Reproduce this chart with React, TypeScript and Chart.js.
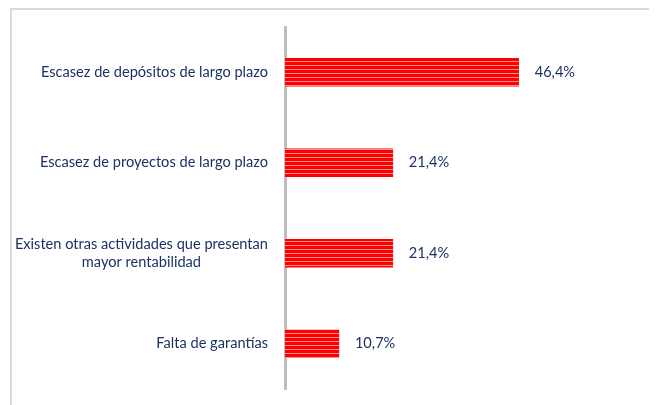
import React, { useEffect, useRef } from "react";
import { Chart, registerables } from "chart.js";

Chart.register(...registerables);

const categories: string[][] = [
  ["Escasez de depósitos de largo plazo"],
  ["Escasez de proyectos de largo plazo"],
  ["Existen otras actividades que presentan", "mayor rentabilidad"],
  ["Falta de garantías"],
];
const values: number[] = [46.4, 21.4, 21.4, 10.7];
const valueLabels: string[] = ["46,4%", "21,4%", "21,4%", "10,7%"];

const TEXT = "#1b3263";
const FONT = "14.6px Lato";

function makePattern(): CanvasPattern | string {
  const c = document.createElement("canvas");
  c.width = 4;
  c.height = 4;
  const g = c.getContext("2d");
  if (!g) return "#ff0000";
  g.fillStyle = "#ff0000";
  g.fillRect(0, 0, 4, 4);
  g.fillStyle = "#ff8c8c";
  g.fillRect(0, 3, 4, 1);
  const p = g.createPattern(c, "repeat");
  return p || "#ff0000";
}

const labelPlugin = {
  id: "customLabels",
  afterDraw(chart: any) {
    const ctx = chart.ctx as CanvasRenderingContext2D;
    const yScale = chart.scales.y;
    ctx.save();
    ctx.font = FONT;
    ctx.fillStyle = TEXT;
    ctx.textBaseline = "middle";
    const right = chart.chartArea.left - 17;
    categories.forEach((lines, i) => {
      const cy = yScale.getPixelForValue(i);
      const maxW = Math.max(...lines.map((l) => ctx.measureText(l).width));
      ctx.textAlign = lines.length > 1 ? "center" : "right";
      const x = lines.length > 1 ? right - maxW / 2 : right;
      lines.forEach((l, j) => {
        ctx.fillText(l, x, cy + (j - (lines.length - 1) / 2) * 18);
      });
    });
    const meta = chart.getDatasetMeta(0);
    ctx.textAlign = "left";
    meta.data.forEach((bar: any, i: number) => {
      ctx.fillText(valueLabels[i], bar.x + 16, bar.y);
    });
    ctx.restore();
  },
};

export default function App() {
  const ref = useRef<HTMLCanvasElement | null>(null);
  useEffect(() => {
    if (!ref.current) return;
    const chart = new Chart(ref.current, {
      type: "bar",
      data: {
        labels: categories.map((l) => l.join(" ")),
        datasets: [
          {
            data: values,
            backgroundColor: makePattern() as any,
            borderWidth: 0,
            barThickness: 28,
          },
        ],
      },
      options: {
        indexAxis: "y",
        animation: false,
        responsive: false,
        devicePixelRatio: 1,
        layout: { padding: { top: 17, bottom: 16, right: 16, left: 0 } },
        plugins: { legend: { display: false }, tooltip: { enabled: false } },
        scales: {
          x: { display: false, min: 0, max: 69.5 },
          y: {
            z: 1,
            ticks: { display: false },
            grid: { display: false },
            border: { display: true, width: 3, color: "#bfbfbf" },
            afterFit: (scale: any) => {
              scale.width = 273;
            },
          },
        },
      },
      plugins: [labelPlugin],
    });
    return () => chart.destroy();
  }, []);
  return (
    <div
      style={{
        marginLeft: 2,
        width: 643,
        height: 397,
        boxSizing: "border-box",
        borderTop: "2px solid #d9d9d9",
        borderLeft: "2px solid #d9d9d9",
        borderRight: "2px solid #d9d9d9",
        overflow: "hidden",
      }}
    >
      <canvas ref={ref} width={639} height={395} style={{ display: "block" }} />
    </div>
  );
}
